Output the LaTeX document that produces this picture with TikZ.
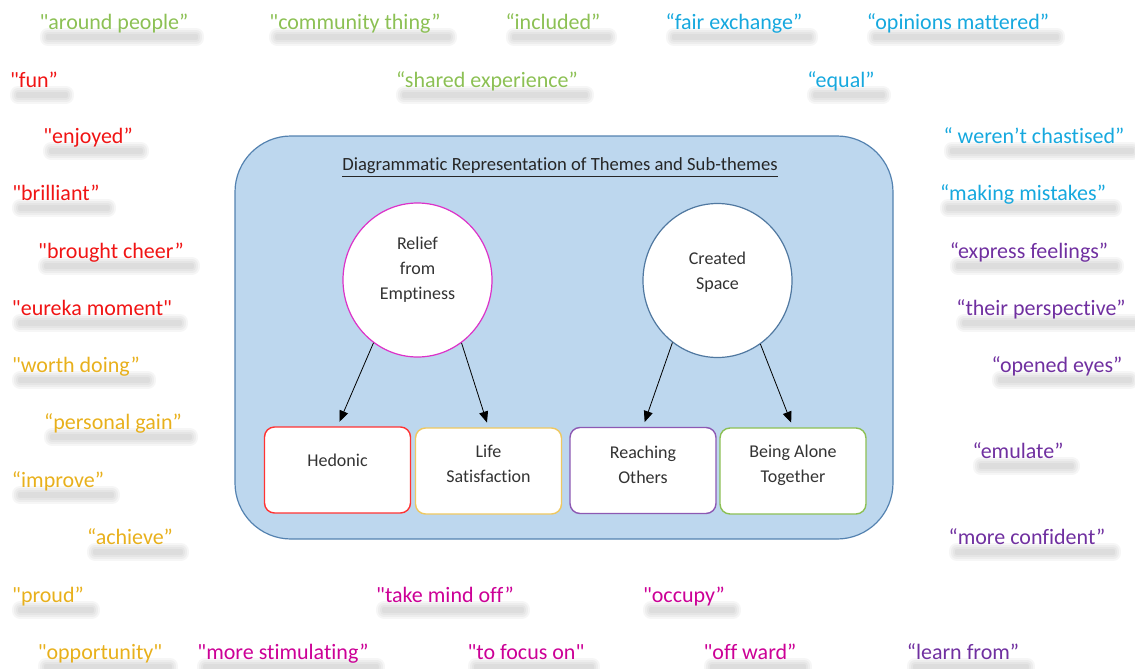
\documentclass[tikz,border=0pt]{standalone}
\usepackage{fontspec}
\setmainfont{Carlito}[Ligatures={TeXOff,NoCommon}]
\usetikzlibrary{shapes.geometric,arrows.meta}

\definecolor{sayGreen}{RGB}{140,192,84}
\definecolor{sayBlue}{RGB}{22,168,222}
\definecolor{sayRed}{RGB}{240,20,20}
\definecolor{sayGold}{RGB}{232,176,28}
\definecolor{sayPurple}{RGB}{112,48,160}
\definecolor{sayPink}{RGB}{204,0,150}
\definecolor{panelFill}{RGB}{189,215,238}
\definecolor{panelLine}{RGB}{84,130,176}
\definecolor{reliefLine}{RGB}{220,50,200}
\definecolor{spaceLine}{RGB}{80,120,160}

\begin{document}
\begin{tikzpicture}[x=0.5pt,y=-0.5pt]
	\tikzset{smudge/.style={preaction={draw=black, draw opacity=0.035, line width=#1, line cap=round, line join=round,
		transform canvas={shift={(4pt,-4.5pt)}}}}};
	\tikzset{quote/.style={font=\fontsize{11}{13}\selectfont, inner xsep=0pt, inner ysep=0pt, text height=1pt, text depth=0pt,
		yshift=-3pt, smudge=8pt, smudge=6pt, smudge=4pt, smudge=2pt}};
	\tikzset{theme/.style={ellipse, draw, fill=white, line width=0.6pt, minimum width=74.5pt, minimum height=77pt}};
	\tikzset{sub/.style={draw, fill=white, rounded corners=5pt, line width=0.7pt, minimum width=73pt, minimum height=43pt}};
	\tikzset{inner/.style={align=center, text=black!80, font=\fontsize{9}{12.5}\selectfont}};
	\useasboundingbox (0,0) rectangle (1135,669);

	% what people said, round the edge
	\foreach \x/\y/\col/\txt [count=\i] in {
		114/22/sayGreen/"around people”, 355/22/sayGreen/"community thing”, 553/22/sayGreen/“included”,
		734/22/sayBlue/“fair exchange”, 958/22/sayBlue/“opinions mattered”,
		34/80/sayRed/"fun”, 487/80/sayGreen/“shared experience”, 841/80/sayBlue/“equal”,
		88/136/sayRed/"enjoyed”, 1034/136/sayBlue/“ weren’t chastised”,
		56/193/sayRed/"brilliant”, 1023/193/sayBlue/“making mistakes”,
		111/251/sayRed/"brought cheer”, 1029/251/sayPurple/“express feelings”,
		92/308/sayRed/"eureka moment", 1041/308/sayPurple/“their perspective”,
		76/365/sayGold/"worth doing”, 1057/365/sayPurple/“opened eyes”,
		113/422/sayGold/“personal gain”, 1018/451/sayPurple/“emulate”,
		58/480/sayGold/“improve”, 130/537/sayGold/“achieve”, 1027/537/sayPurple/“more confident”,
		48/595/sayGold/"proud”, 445/595/sayPink/"take mind off”, 684/595/sayPink/"occupy”,
		100/652/sayGold/"opportunity", 283/652/sayPink/"more stimulating”, 526/652/sayPink/"to focus on",
		750/652/sayPink/"off ward”, 963/652/sayPurple/“learn from”}{
		\node[quote, text=\col] (w\i) at (\x, \y) {\txt};
	}

	\node[draw=panelLine, fill=panelFill, line width=0.6pt, rounded corners=28pt,
		minimum width=329pt, minimum height=201.5pt] (panel) at (564, 337.5) {};
	\node[inner, text=black!85, font=\fontsize{9.3}{12}\selectfont] (title) at (560, 168) {\underline{Diagrammatic Representation of Themes and Sub-themes}};

	\node[theme, draw=reliefLine, label={[inner, yshift=5pt]center:Relief\\from\\Emptiness}] (relief) at (417.5, 280) {};
	\node[theme, draw=spaceLine, label={[inner, yshift=4pt]center:Created\\Space}] (space) at (717.5, 280.5) {};

	\node[sub, draw=red!80, label={[inner, yshift=5pt]center:Hedonic}] (hed) at (337.5, 470) {};
	\node[sub, draw=sayGold!70, label={[inner, yshift=3.5pt]center:Life\\Satisfaction}] (life) at (488.5, 471) {};
	\node[sub, draw=sayPurple!80, label={[inner, yshift=2.75pt]center:Reaching\\Others}] (reach) at (643, 470.5) {};
	\node[sub, draw=sayGreen, label={[inner, yshift=2.75pt]center:Being Alone\\Together}] (alone) at (793, 471) {};

	\draw[-{Triangle[length=5.5pt,width=4.5pt]}, shorten >=2.5pt] (relief.235) -- (hed.north);
	\draw[-{Triangle[length=5.5pt,width=4.5pt]}, shorten >=2.5pt] (relief.305) -- (life.north);
	\draw[-{Triangle[length=5.5pt,width=4.5pt]}, shorten >=2.5pt] (space.234) -- (reach.north);
	\draw[-{Triangle[length=5.5pt,width=4.5pt]}, shorten >=2.5pt] (space.304) -- (alone.north);
\end{tikzpicture}
\end{document}
